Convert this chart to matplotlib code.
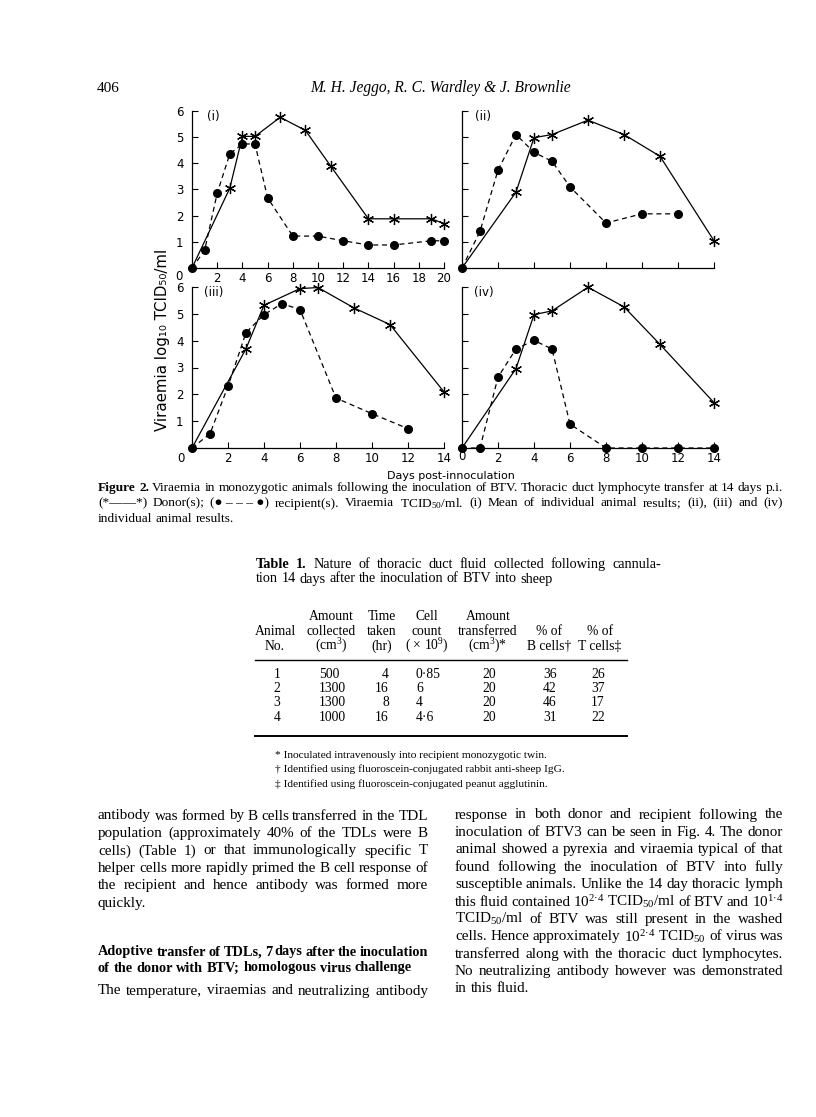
import matplotlib
matplotlib.use('Agg')
import matplotlib.pyplot as plt
from matplotlib.lines import Line2D

# ---- data (days, log10 TCID50/ml) ----
days_i_donor = [0, 3, 4, 5, 7, 9, 11, 14, 16, 19, 20]
vir_i_donor = [0, 3.05, 5.03, 5.03, 5.76, 5.26, 3.9, 1.88, 1.88, 1.88, 1.7]
days_i_recip = [0, 1, 2, 3, 4, 5, 6, 8, 10, 12, 14, 16, 19, 20]
vir_i_recip = [0, 0.67, 2.86, 4.36, 4.74, 4.74, 2.68, 1.22, 1.22, 1.04, 0.88, 0.88, 1.04, 1.04]

days_ii_donor = [0, 3, 4, 5, 7, 9, 11, 14]
vir_ii_donor = [0, 2.9, 4.98, 5.1, 5.65, 5.1, 4.27, 1.04]
days_ii_recip = [0, 1, 2, 3, 4, 5, 6, 8, 10, 12]
vir_ii_recip = [0, 1.4, 3.74, 5.1, 4.42, 4.08, 3.1, 1.72, 2.07, 2.07]

days_iii_donor = [0, 3, 4, 6, 7, 9, 11, 14]
vir_iii_donor = [0, 3.7, 5.32, 5.94, 5.98, 5.22, 4.6, 2.09]
days_iii_recip = [0, 1, 2, 3, 4, 5, 6, 8, 10, 12]
vir_iii_recip = [0, 0.53, 2.3, 4.3, 4.97, 5.38, 5.16, 1.86, 1.28, 0.72]

days_iv_donor = [0, 3, 4, 5, 7, 9, 11, 14]
vir_iv_donor = [0, 2.96, 4.97, 5.11, 5.99, 5.26, 3.86, 1.69]
days_iv_recip = [0, 1, 2, 3, 4, 5, 6, 8, 10, 12, 14]
vir_iv_recip = [0, 0, 2.64, 3.69, 4.01, 3.69, 0.89, 0, 0, 0, 0]

# ---- table 1 ----
animal_no = ['1', '2', '3', '4']
amount_collected = ['500', '1300', '1300', '1000']
time_taken = ['4', '16', '8', '16']
cell_count = ['0·85', '6', '4', '4·6']
amount_transferred = ['20', '20', '20', '20']
b_cells = ['36', '42', '46', '31']
t_cells = ['26', '37', '17', '22']

plt.rcParams['mathtext.fontset'] = 'custom'
plt.rcParams['mathtext.rm'] = 'Liberation Serif'
plt.rcParams['mathtext.it'] = 'Liberation Serif:italic'
plt.rcParams['mathtext.bf'] = 'Liberation Serif:bold'

W, H = 816, 1117
fig = plt.figure(figsize=(W / 100, H / 100), dpi=100)
renderer = fig.canvas.get_renderer()
SERIF = ['Liberation Serif', 'DejaVu Serif']
SANS = ['DejaVu Sans']


def put(x, y, s, size=9.5, **kw):
    kw.setdefault('family', SERIF)
    kw.setdefault('va', 'center')
    return fig.text(x / W, 1 - y / H, s, fontsize=size, **kw)


def justify(line, x0, x1, y, size, nbold=0, last=False, weight='normal'):
    words = line.split(' ')
    ts = [put(x0, y, w, size, weight='bold' if i < nbold else weight)
          for i, w in enumerate(words)]
    widths = [t.get_window_extent(renderer).width for t in ts]
    if last or len(ts) == 1:
        gap = size * 0.25 * 100 / 72
    else:
        gap = (x1 - x0 - sum(widths)) / (len(ts) - 1)
    x = x0
    for t, wd in zip(ts, widths):
        t.set_x(x / W)
        x += wd + gap


def hrule(x0, x1, y, lw=0.8):
    fig.add_artist(Line2D([x0 / W, x1 / W], [1 - y / H] * 2, color='k',
                          lw=lw, transform=fig.transFigure))


def panel(rect, dd, vd, dr, vr, xmax, tag, xlab=True, ylab=True):
    l, t, r, b = rect
    ax = fig.add_axes([l / W, 1 - b / H, (r - l) / W, (b - t) / H])
    ax.plot(dr, vr, color='k', lw=0.9, ls=(0, (4, 3)), marker='o', ms=5.5,
            clip_on=False, zorder=3)
    ax.plot(dd, vd, color='k', lw=0.9, marker=(6, 2, 0), ms=8, mew=0.9,
            markevery=slice(1, None), clip_on=False, zorder=4)
    ax.set_xlim(0, xmax)
    ax.set_ylim(0, 6)
    for s in ['top', 'right']:
        ax.spines[s].set_visible(False)
    for s in ['left', 'bottom']:
        ax.spines[s].set_linewidth(0.9)
    ax.set_xticks(range(2, xmax + 1, 2))
    ax.set_yticks(range(1, 7))
    ax.tick_params(direction='in', length=4, width=0.8, labelsize=8.5,
                   labelfontfamily='DejaVu Sans')
    ax.tick_params(axis='x', pad=3)
    ax.tick_params(axis='y', pad=6)
    if not xlab:
        ax.set_xticklabels([])
    if not ylab:
        ax.set_yticklabels([])
    ax.text(0.085, 0.965, tag, transform=ax.transAxes, ha='center',
            va='center', fontsize=8.5, family=SANS)
    ax.patch.set_visible(False)
    return ax


panel((192, 111, 444, 268), days_i_donor, vir_i_donor, days_i_recip, vir_i_recip, 20, '(i)')
panel((462, 111, 714, 268), days_ii_donor, vir_ii_donor, days_ii_recip, vir_ii_recip, 14, '(ii)',
      xlab=False, ylab=False)
panel((192, 287, 444, 448), days_iii_donor, vir_iii_donor, days_iii_recip, vir_iii_recip, 14, '(iii)')
panel((462, 287, 714, 448), days_iv_donor, vir_iv_donor, days_iv_recip, vir_iv_recip, 14, '(iv)',
      ylab=False)

put(179, 277, '0', 8.5, family=SANS, ha='center')
put(181, 459, '0', 8.5, family=SANS, ha='center')
put(462, 457, '0', 8.5, family=SANS, ha='center')
put(163, 340, 'Viraemia log₁₀ TCID₅₀/ml', 10.8, family=SANS, ha='center', rotation=90)
put(451, 476, 'Days post-innoculation', 8, family=SANS, ha='center')

# ---- running head ----
put(97, 88, '406', 11)
put(440, 88, 'M. H. Jeggo, R. C. Wardley & J. Brownlie', 11.2, style='italic', ha='center')

# ---- caption ----
cap = [
    'Figure 2. Viraemia in monozygotic animals following the inoculation of BTV. '
    'Thoracic duct lymphocyte transfer at 14 days p.i.',
    '(*——*) Donor(s); (●\u00a0–\u00a0–\u00a0–\u00a0●) recipient(s). Viraemia TCID$_{50}$/ml. '
    '(i) Mean of individual animal results; (ii), (iii) and (iv)',
    'individual animal results.',
]
for k, line in enumerate(cap):
    justify(line, 98, 783, 488 + 15.5 * k, 9.6, nbold=2 if k == 0 else 0,
            last=(k == len(cap) - 1))

# ---- table ----
justify('Table 1. Nature of thoracic duct fluid collected following cannula-',
        256, 661, 564, 10.3, nbold=2)
justify('tion 14 days after the inoculation of BTV into sheep', 256, 661, 579, 10.3, last=True)

TS = 9.8
head_x = [275, 331, 382, 427, 488, 549, 600]
head = [
    ['', 'Animal', 'No.'],
    ['Amount', 'collected', '(cm$^{3}$)'],
    ['Time', 'taken', '(hr)'],
    ['Cell', 'count', '( × 10$^{9}$)'],
    ['Amount', 'transferred', '(cm$^{3}$)*'],
    ['', '% of', 'B cells†'],
    ['', '% of', 'T cells‡'],
]
for hx, col in zip(head_x, head):
    for k, s in enumerate(col):
        if s:
            put(hx, 617 + 14.5 * k, s, TS, ha='center')
hrule(255, 627, 660, 1.0)
row_y = [674, 688.3, 702.7, 717.3]
for k, y in enumerate(row_y):
    put(277, y, animal_no[k], TS, ha='center')
    put(319, y, amount_collected[k], TS, ha='left')
    put(389, y, time_taken[k], TS, ha='right')
    put(416, y, cell_count[k], TS, ha='left')
    put(489, y, amount_transferred[k], TS, ha='center')
    put(550, y, b_cells[k], TS, ha='center')
    put(598, y, t_cells[k], TS, ha='center')
hrule(255, 627, 736, 1.4)
notes = ['* Inoculated intravenously into recipient monozygotic twin.',
         '† Identified using fluoroscein-conjugated rabbit anti-sheep IgG.',
         '‡ Identified using fluoroscein-conjugated peanut agglutinin.']
for k, s in enumerate(notes):
    put(275, 755 + 14.5 * k, s, 8.2)

# ---- body text ----
BS = 10.9
left_col = [
    'antibody was formed by B cells transferred in the TDL',
    'population (approximately 40% of the TDLs were B',
    'cells) (Table 1) or that immunologically specific T',
    'helper cells more rapidly primed the B cell response of',
    'the recipient and hence antibody was formed more',
    'quickly.',
]
for k, line in enumerate(left_col):
    justify(line, 98, 428, 816 + 17.4 * k, BS, last=(k == len(left_col) - 1))
justify('Adoptive transfer of TDLs, 7 days after the inoculation', 98, 428, 952, 10.3,
        weight='bold')
justify('of the donor with BTV; homologous virus challenge', 98, 428, 968, 10.3,
        weight='bold', last=True)
justify('The temperature, viraemias and neutralizing antibody', 98, 428, 991, BS)

right_col = [
    'response in both donor and recipient following the',
    'inoculation of BTV3 can be seen in Fig. 4. The donor',
    'animal showed a pyrexia and viraemia typical of that',
    'found following the inoculation of BTV into fully',
    'susceptible animals. Unlike the 14 day thoracic lymph',
    'this fluid contained 10$^{2·4}$ TCID$_{50}$/ml of BTV and 10$^{1·4}$',
    'TCID$_{50}$/ml of BTV was still present in the washed',
    'cells. Hence approximately 10$^{2·4}$ TCID$_{50}$ of virus was',
    'transferred along with the thoracic duct lymphocytes.',
    'No neutralizing antibody however was demonstrated',
    'in this fluid.',
]
for k, line in enumerate(right_col):
    justify(line, 455, 783, 815 + 17.4 * k, BS, last=(k == len(right_col) - 1))

fig.savefig('out.png', dpi=100)
